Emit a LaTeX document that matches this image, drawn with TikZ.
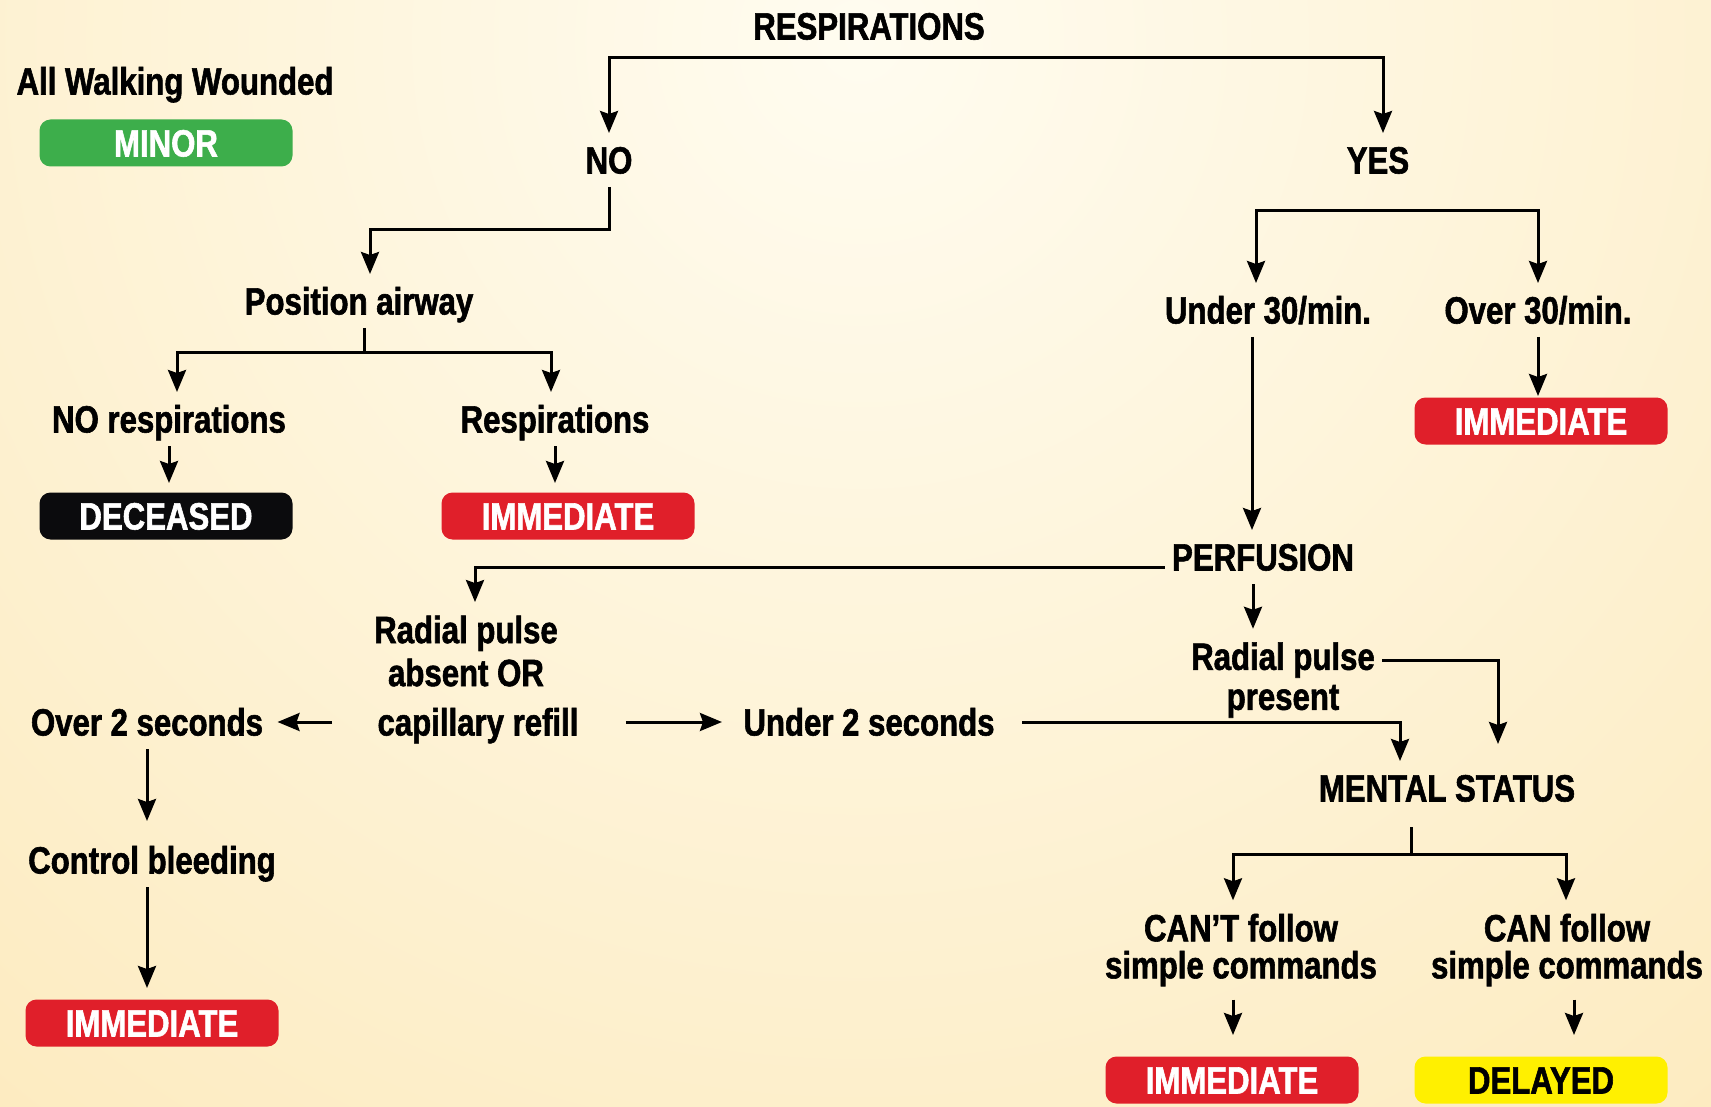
\documentclass[tikz,border=0pt]{standalone}
\usepackage{fontspec}
\newfontfamily\triagefont[FakeStretch=0.82,FakeBold=1.5]{Liberation Sans}
\usetikzlibrary{positioning}
\usetikzlibrary{arrows.meta}

\newcommand{\chartfont}{\triagefont\bfseries\fontsize{38pt}{43pt}\selectfont}

\definecolor{bgin}{HTML}{FFFCF0}
\definecolor{bgout}{HTML}{FBE1A4}
\definecolor{minorgreen}{HTML}{3DAE4B}
\definecolor{immred}{HTML}{E01F2A}
\definecolor{deadblack}{HTML}{0B0B0D}
\definecolor{delayyellow}{HTML}{FFF000}

\begin{document}
\begin{tikzpicture}[x=1pt,y=-1pt,->,>={Stealth[length=22pt,width=18pt,inset=3pt]},line width=3pt,
		label node/.style={font=\chartfont, inner xsep=6pt, inner ysep=12pt, text height=27pt, text depth=0pt},
		two line/.style={font=\chartfont, inner xsep=6pt, inner ysep=12pt, align=center},
		tag/.style={rounded corners=11pt, minimum width=253pt, minimum height=47pt, inner sep=0pt,
			text=white, font=\chartfont, text height=27pt, text depth=0pt}]
		\useasboundingbox (0,0) rectangle (1711,1107);
		% Background
		\begin{scope}
			\clip (0,0) rectangle (1711,1107);
			\shade[inner color=bgin, outer color=bgout] (860,40) circle (2200);
		\end{scope}

		%% Nodes
		% Respirations
		\begin{scope}
			\node (resp) at (869,26) [label node] {RESPIRATIONS};
			\node (walking) at (175,81) [label node] {All Walking Wounded};
			\node (minor) at (166,143) [tag, fill=minorgreen] {MINOR};
			\node (no) at (609,160) [label node] {NO};
			\node (yes) at (1378,160) [label node] {YES};
		\end{scope}

		% No breathing
		\begin{scope}
			\node (airway) at (359,301) [label node] {Position airway};
			\node (noresp) at (169,419) [label node] {NO respirations};
			\node (resp_back) at (555,419) [label node] {Respirations};
			\node (deceased) at (166,516) [tag, fill=deadblack] {DECEASED};
			\node (imm_resp) at (568,516) [tag, fill=immred] {IMMEDIATE};
		\end{scope}

		% Breathing
		\begin{scope}
			\node (under30) at (1268,310) [label node] {Under 30/min.};
			\node (over30) at (1538,310) [label node] {Over 30/min.};
			\node (imm_fast) at (1541,421) [tag, fill=immred] {IMMEDIATE};
		\end{scope}

		% Perfusion
		\begin{scope}
			\node (perfusion) at (1263,557) [label node] {PERFUSION};
			\node (present) at (1283,680) [two line] {Radial pulse\\[-3pt]present};
			\node (absent) at (466,651) [two line] {Radial pulse\\absent OR};
			\node (refill) at (478,722) [label node] {capillary refill};
			\node (over2) at (147,722) [label node] {Over 2 seconds};
			\node (under2) at (869,722) [label node] {Under 2 seconds};
			\node (bleeding) at (152,860) [label node] {Control bleeding};
			\node (imm_bleed) at (152,1023) [tag, fill=immred] {IMMEDIATE};
		\end{scope}

		% Mental status
		\begin{scope}
			\node (mental) at (1447,788) [label node] {MENTAL STATUS};
			\node (cant) at (1241,950) [two line] {CAN’T follow\\[-6pt]simple commands};
			\node (can) at (1567,950) [two line] {CAN follow\\[-6pt]simple commands};
			\node (imm_cant) at (1232,1080) [tag, fill=immred] {IMMEDIATE};
			\node (delayed) at (1541,1080) [tag, fill=delayyellow, text=black] {DELAYED};
		\end{scope}

		%% Edges
		\coordinate (resp_bar) at (869,58);
		\draw (resp_bar) -| (no.north);
		\draw (resp_bar) -| ([xshift=5pt]yes.north);

		\draw (no.south) -- ++(0,43) -| ([xshift=11pt]airway.north);
		\coordinate (airway_split) at (364,352);
		\draw[-] (airway_split |- airway.south) -- (airway_split);
		\draw (airway_split) -| ([xshift=8pt]noresp.north);
		\draw (airway_split) -| ([xshift=-4pt]resp_back.north);
		\draw[shorten >=8pt] (noresp.south) -- (noresp.south |- deceased.north);
		\draw[shorten >=8pt] (resp_back.south) -- (resp_back.south |- imm_resp.north);

		\coordinate (yes_bar) at (1400,211);
		\draw (yes_bar) -| ([xshift=-12pt]under30.north);
		\draw (yes_bar) -| (over30.north);
		\draw (over30.south) -- (over30.south |- imm_fast.north);
		\draw ([xshift=-16pt]under30.south) -- ([xshift=-16pt]under30.south |- perfusion.north);

		\draw ([yshift=-10pt]perfusion.west) -| ([xshift=9pt]absent.north);
		\draw ([xshift=-10pt]perfusion.south) -- ([xshift=-10pt]perfusion.south |- present.north);
		\draw[shorten >=17pt] ([yshift=20pt]present.east) -| ([xshift=51pt]mental.north);
		\draw ([xshift=20pt]under2.east) -| ([xshift=-47pt]mental.north);
		\draw ([xshift=40pt]refill.east) -- ([xshift=-14pt]under2.west);
		\draw ([xshift=-38pt]refill.west) -- ([xshift=7pt]over2.east);
		\draw[shorten >=12pt] (over2.south) -- (over2.south |- bleeding.north);
		\draw[shorten >=10pt] (over2.south |- bleeding.south) -- (over2.south |- imm_bleed.north);

		\coordinate (mental_split) at (1411,854);
		\draw[-, shorten <=12pt] (mental_split |- mental.south) -- (mental_split);
		\draw (mental_split) -| ([xshift=-8pt]cant.north);
		\draw (mental_split) -| ([xshift=-1pt]can.north);
		\draw[shorten >=20pt] ([xshift=-8pt]cant.south) -- ([xshift=-8pt]cant.south |- imm_cant.north);
		\draw[shorten >=20pt] ([xshift=7pt]can.south) -- ([xshift=7pt]can.south |- delayed.north);
	\end{tikzpicture}
\end{document}
